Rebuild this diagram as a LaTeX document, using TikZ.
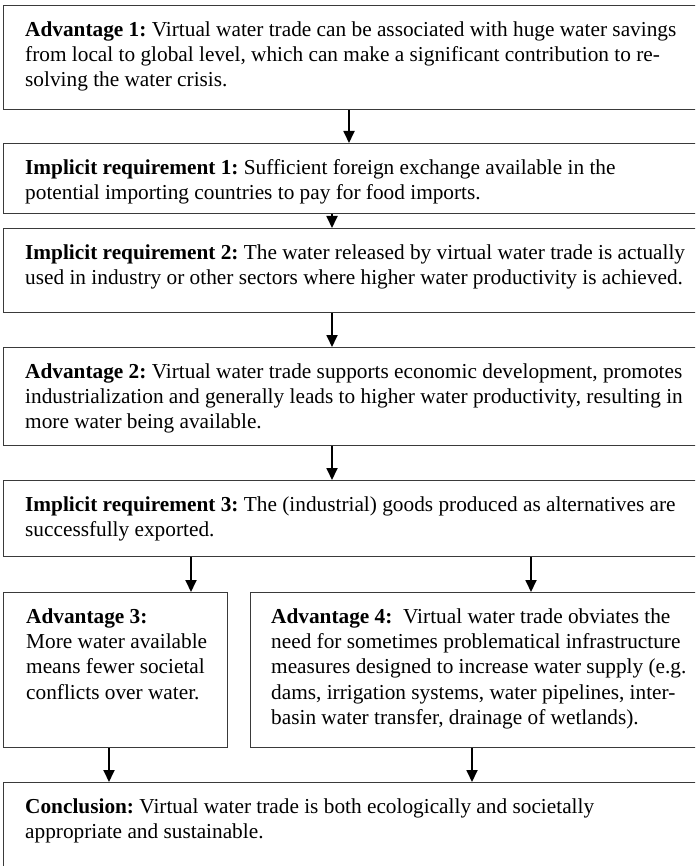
\documentclass[tikz,border=0pt]{standalone}
\usepackage{fontspec}
\setmainfont{Liberation Serif}
\usetikzlibrary{arrows.meta,calc}
\definecolor{boxgray}{HTML}{3A3A3A}
\frenchspacing
\begin{document}
\begin{tikzpicture}[x=1pt,y=-1pt,
  box/.style={draw=boxgray,line width=1.2pt,rectangle,anchor=north west,inner sep=0pt},
  txt/.style={anchor=north west,inner sep=0pt,align=left,text=black,
    font=\fontsize{21.3}{25.3}\selectfont\frenchspacing},
  arr/.style={line width=1.8pt,draw=black,-{Triangle[width=11pt,length=12pt]}}]
\useasboundingbox (0,0) rectangle (695,866);
\clip (0,0) rectangle (695,866);
% boxes
\node[box,minimum width=700pt,minimum height=104pt] (b1) at (3,5) {};
\node[box,minimum width=700pt,minimum height=70pt]  (b2) at (3,143) {};
\node[box,minimum width=700pt,minimum height=84pt]  (b3) at (3,228) {};
\node[box,minimum width=700pt,minimum height=98pt]  (b4) at (3,347) {};
\node[box,minimum width=700pt,minimum height=76pt]  (b5) at (3,480) {};
\node[box,minimum width=224pt,minimum height=155pt] (b6) at (3,592) {};
\node[box,minimum width=450pt,minimum height=155pt] (b7) at (250,592) {};
\node[box,minimum width=700pt,minimum height=100pt] (b8) at (3,782) {};
% texts
\node[txt] (t1) at ($(b1.north west)+(22,13.3)$) {\strut\textbf{Advantage 1:} Virtual water trade can be associated with huge water savings\\from local to global level, which can make a significant contribution to re-\\solving the water crisis.};
\node[txt] (t2) at ($(b2.north west)+(22,13.3)$) {\strut\textbf{Implicit requirement 1:} Sufficient foreign exchange available in the\\potential importing countries to pay for food imports.};
\node[txt] (t3) at ($(b3.north west)+(22,13.3)$) {\strut\textbf{Implicit requirement 2:} The water released by virtual water trade is actually\\used in industry or other sectors where higher water productivity is achieved.};
\node[txt] (t4) at ($(b4.north west)+(22,13.3)$) {\strut\textbf{Advantage 2:} Virtual water trade supports economic development, promotes\\industrialization and generally leads to higher water productivity, resulting in\\more water being available.};
\node[txt] (t5) at ($(b5.north west)+(22,13.3)$) {\strut\textbf{Implicit requirement 3:} The (industrial) goods produced as alternatives are\\successfully exported.};
\node[txt] (t6) at ($(b6.north west)+(23,13.3)$) {\strut\textbf{Advantage 3:}\\More water available\\means fewer societal\\conflicts over water.};
\node[txt] (t7) at ($(b7.north west)+(21,13.3)$) {\strut\textbf{Advantage 4:}\ \ Virtual water trade obviates the\\need for sometimes problematical infrastructure\\measures designed to increase water supply (e.g.\\dams, irrigation systems, water pipelines, inter-\\basin water transfer, drainage of wetlands).};
\node[txt] (t8) at ($(b8.north west)+(22,13.3)$) {\strut\textbf{Conclusion:} Virtual water trade is both ecologically and societally\\appropriate and sustainable.};
% connectors
\draw[arr] ($(b1.south west)+(346,0)$) -- ($(b2.north west)+(346,0)$);
\draw[arr] ($(b2.south west)+(329,0)$) -- ($(b3.north west)+(329,0)$);
\draw[arr] ($(b3.south west)+(329,0)$) -- ($(b4.north west)+(329,0)$);
\draw[arr] ($(b4.south west)+(329,0)$) -- ($(b5.north west)+(329,0)$);
\draw[arr] ($(b5.south west)+(188,0)$) -- ($(b6.north west)+(188,0)$);
\draw[arr] ($(b5.south west)+(528,0)$) -- ($(b7.north west)+(281,0)$);
\draw[arr] ($(b6.south west)+(106,0)$) -- ($(b8.north west)+(106,0)$);
\draw[arr] ($(b7.south west)+(222,0)$) -- ($(b8.north west)+(469,0)$);
\end{tikzpicture}
\end{document}
